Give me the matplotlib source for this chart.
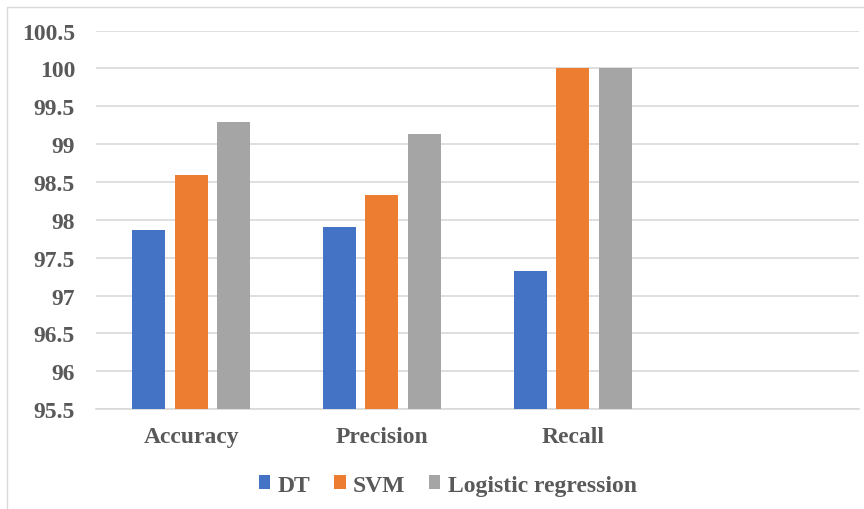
import numpy as np
import matplotlib
matplotlib.use("Agg")
import matplotlib.pyplot as plt
from matplotlib.patches import Rectangle

# données
categories = ['Accuracy', 'Precision', 'Recall', '']
dt = [97.86, 97.91, 97.32, np.nan]
svm = [98.59, 98.33, 100.0, np.nan]
logreg = [99.29, 99.14, 100.0, np.nan]
series_names = ['DT', 'SVM', 'Logistic regression']
colors = ['#4472C4', '#ED7D31', '#A5A5A5']

plt.rcParams['font.family'] = ['Liberation Serif', 'DejaVu Serif']
text_color = '#595959'

fig = plt.figure(figsize=(8.64, 5.10), dpi=100)
ax = fig.add_axes([0.111, 0.196, 0.883, 0.742])

x = np.arange(len(categories))
width = 0.173
step = 0.223
for i, (vals, name, c) in enumerate(zip([dt, svm, logreg], series_names, colors)):
    ax.bar(x + (i - 1) * step, vals, width, color=c, label=name, zorder=3)

ax.set_ylim(95.5, 100.5)
ax.set_xlim(-0.5, len(categories) - 0.5)
ax.set_yticks(np.arange(95.5, 100.51, 0.5))
ax.set_yticklabels([f'{v:g}' for v in np.arange(95.5, 100.51, 0.5)])
ax.set_xticks(x)
ax.set_xticklabels(categories)

ax.grid(axis='y', color='#D9D9D9', linewidth=1.2, zorder=0)
for s in ['top', 'right', 'left']:
    ax.spines[s].set_visible(False)
ax.spines['bottom'].set_color('#D9D9D9')
ax.spines['bottom'].set_linewidth(1.2)
ax.tick_params(length=0)
ax.tick_params(axis='y', pad=15, labelsize=17, labelcolor=text_color)
ax.tick_params(axis='x', pad=12, labelsize=17, labelcolor=text_color)
for lbl in ax.get_xticklabels() + ax.get_yticklabels():
    lbl.set_fontweight('bold')

leg = fig.legend(loc='center', bbox_to_anchor=(0.518, 0.047), ncol=3, frameon=False,
                 handlelength=0.5, handleheight=0.5, handletextpad=0.3, columnspacing=1.0,
                 prop={'size': 17, 'weight': 'bold'})
for t in leg.get_texts():
    t.set_color(text_color)

# cadre du graphique (coupé à droite et en bas)
fig.patches.append(Rectangle((7 / 864, -0.1), 1.2, 1 - 8 / 510 + 0.1, transform=fig.transFigure,
                             fill=False, edgecolor='#D9D9D9', linewidth=1.0))

fig.savefig('out.png', dpi=100)
